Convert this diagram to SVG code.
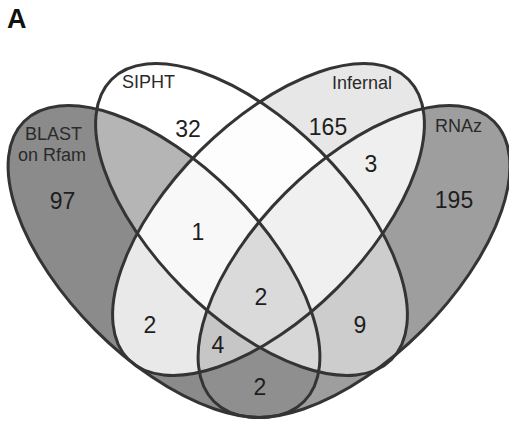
<svg xmlns="http://www.w3.org/2000/svg" width="509" height="423" viewBox="0 0 509 423">
<style>
.lbl{font-family:"Liberation Sans",Arial,sans-serif;font-size:18px;fill:#2a2a2a}
.num{font-family:"Liberation Sans",Arial,sans-serif;font-size:23px;fill:#1e1e1e;text-anchor:middle}
.outline{fill:none;stroke:#343434;stroke-width:3}
.title{font-family:"Liberation Sans",Arial,sans-serif;font-size:27px;font-weight:bold;fill:#111}
</style>
<defs>
<ellipse id="eB" cx="164" cy="261.5" rx="198" ry="97" transform="rotate(45 164 261.5)"/>
<ellipse id="eS" cx="251.5" cy="219.5" rx="198" ry="97" transform="rotate(45 251.5 219.5)"/>
<ellipse id="eI" cx="268.5" cy="219.5" rx="198" ry="97" transform="rotate(-45 268.5 219.5)"/>
<ellipse id="eR" cx="354" cy="261.5" rx="198" ry="97" transform="rotate(-45 354 261.5)"/>
<clipPath id="cB"><use href="#eB"/></clipPath>
<clipPath id="cS"><use href="#eS"/></clipPath>
<clipPath id="cI"><use href="#eI"/></clipPath>
<clipPath id="cR"><use href="#eR"/></clipPath>
</defs>
<rect width="509" height="423" fill="#ffffff"/>
<text class="title" x="7" y="28">A</text>
<g id="regions">
<use href="#eB" fill="#8b8b8b"/>
<use href="#eR" fill="#9e9e9e"/>
<use href="#eS" fill="#ffffff"/>
<use href="#eI" fill="#e7e7e7"/>
<g clip-path="url(#cB)"><use href="#eS" fill="#b5b5b5"/></g>
<g clip-path="url(#cB)"><use href="#eI" fill="#e9e9e9"/></g>
<g clip-path="url(#cB)"><use href="#eR" fill="#8f8f8f"/></g>
<g clip-path="url(#cS)"><use href="#eI" fill="#fdfdfd"/></g>
<g clip-path="url(#cS)"><use href="#eR" fill="#cdcdcd"/></g>
<g clip-path="url(#cI)"><use href="#eR" fill="#efefef"/></g>
<g clip-path="url(#cB)"><g clip-path="url(#cS)"><use href="#eI" fill="#f8f8f8"/></g></g>
<g clip-path="url(#cB)"><g clip-path="url(#cI)"><use href="#eR" fill="#c6c6c6"/></g></g>
<g clip-path="url(#cB)"><g clip-path="url(#cS)"><use href="#eR" fill="#d7d7d7"/></g></g>
<g clip-path="url(#cS)"><g clip-path="url(#cI)"><use href="#eR" fill="#f0f0f0"/></g></g>
<g clip-path="url(#cB)"><g clip-path="url(#cS)"><g clip-path="url(#cI)"><use href="#eR" fill="#dadada"/></g></g></g>
</g>
<g id="blast">
<use href="#eB" class="outline"/>
<text class="lbl" x="25" y="140">BLAST</text>
<text class="lbl" x="18" y="161">on Rfam</text>
<text class="num" x="62.5" y="209">97</text>
</g>
<g id="rnaz">
<use href="#eR" class="outline"/>
<text class="lbl" x="435" y="132">RNAz</text>
<text class="num" x="454" y="208">195</text>
</g>
<g id="siphta">
<use href="#eS" class="outline"/>
<text class="lbl" x="122" y="88">SIPHT</text>
<text class="num" x="188" y="137">32</text>
</g>
<g id="infernal">
<use href="#eI" class="outline"/>
<text class="lbl" x="332" y="89">Infernal</text>
<text class="num" x="328" y="135">165</text>
</g>
<g id="counts">
<text class="num" x="371" y="172">3</text>
<text class="num" x="198" y="240">1</text>
<text class="num" x="261" y="305">2</text>
<text class="num" x="150" y="333">2</text>
<text class="num" x="218" y="353">4</text>
<text class="num" x="260" y="395">2</text>
<text class="num" x="360" y="333">9</text>
</g>
</svg>
